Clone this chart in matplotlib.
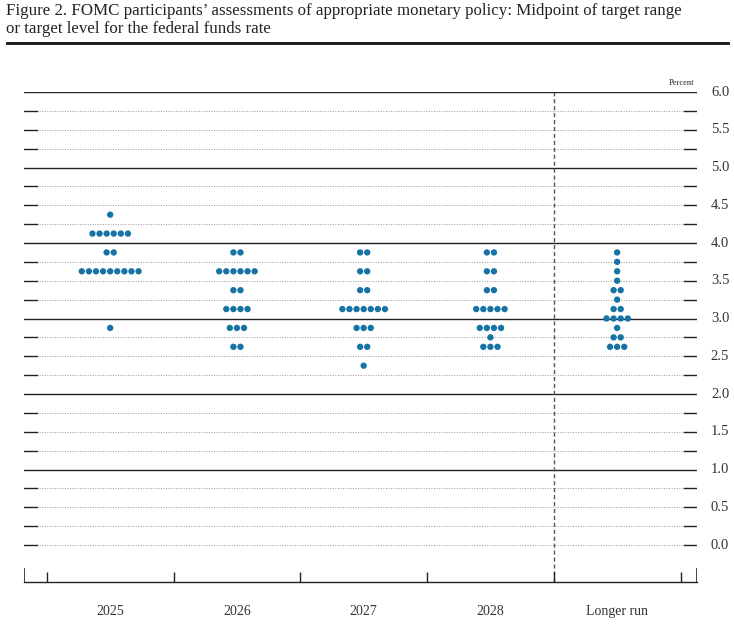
import matplotlib
matplotlib.use("Agg")
import matplotlib.pyplot as plt
from matplotlib.lines import Line2D

categories = ["2025", "2026", "2027", "2028", "Longer run"]
# (rate level, number of participants) per category
dots_2025 = [(4.375, 1), (4.125, 6), (3.875, 2), (3.625, 9), (2.875, 1)]
dots_2026 = [(3.875, 2), (3.625, 6), (3.375, 2), (3.125, 4), (2.875, 3), (2.625, 2)]
dots_2027 = [(3.875, 2), (3.625, 2), (3.375, 2), (3.125, 7), (2.875, 3), (2.625, 2), (2.375, 1)]
dots_2028 = [(3.875, 2), (3.625, 2), (3.375, 2), (3.125, 5), (2.875, 4), (2.75, 1), (2.625, 3)]
dots_longer = [(3.875, 1), (3.75, 1), (3.625, 1), (3.5, 1), (3.375, 2), (3.25, 1),
               (3.125, 2), (3.0, 4), (2.875, 1), (2.75, 2), (2.625, 3)]
all_dots = [dots_2025, dots_2026, dots_2027, dots_2028, dots_longer]
ytick_labels = ["6.0", "5.5", "5.0", "4.5", "4.0", "3.5", "3.0", "2.5", "2.0", "1.5", "1.0", "0.5", "0.0"]

SERIF = ["Liberation Serif", "DejaVu Serif"]
DOT = "#1673a5"

W, H = 734, 628
fig = plt.figure(figsize=(W / 100, H / 100), dpi=100)

ax = fig.add_axes([24 / W, 1 - 582 / H, (697 - 24) / W, (582 - 92) / H])
xmin, xmax = -0.68, 4.63
ax.set_xlim(xmin, xmax)
ax.set_ylim(-0.49, 6.0)

# horizontal grid lines every 0.25
levels = [i * 0.25 for i in range(0, 25)]
seg = 13 / (697 - 24)
for lv in levels:
    if lv > 0 and abs(lv - round(lv)) < 1e-9:
        ax.axhline(lv, color="#222222", lw=1.0, zorder=1)
    else:
        ax.axhline(lv, color="#999999", lw=0.7, ls=(0, (1, 1.6)), zorder=1)
        ax.axhline(lv, xmin=0, xmax=seg, color="#222222", lw=1.0, zorder=2)
        ax.axhline(lv, xmin=1 - seg, xmax=1, color="#222222", lw=1.0, zorder=2)

# divider between projections and longer run
ax.axvline(3.5, color="#555555", lw=1.0, ls=(0, (3, 2)), zorder=1)

# dots
spacing = 0.056
for i, grp in enumerate(all_dots):
    for level, n in grp:
        xs = [i + (k - (n - 1) / 2) * spacing for k in range(n)]
        ax.scatter(xs, [level] * n, s=21, color=DOT, edgecolors="none", zorder=3)

# axes frame
for s in ["top", "left", "right"]:
    ax.spines[s].set_visible(False)
ax.spines["bottom"].set_color("#222222")
ax.spines["bottom"].set_linewidth(1.0)
ax.axvline(xmin, ymin=0, ymax=13 / 490, color="#222222", lw=1.2)
ax.axvline(xmax, ymin=0, ymax=13 / 490, color="#222222", lw=1.2)

bounds = [i + 0.5 for i in range(-1, len(categories))]
ax.set_xticks(bounds)
ax.set_xticklabels([])
ax.tick_params(axis="x", direction="in", length=7.5, width=1.0, color="#222222")
ax.set_yticks([])

for i, c in enumerate(categories):
    ax.text(i, -0.49 - 23 / 75.5, c, ha="center", va="top",
            fontsize=10, family=SERIF, color="#333333")

# right side y labels
for j, lab in enumerate(ytick_labels):
    val = 6.0 - 0.5 * j
    ax.text(xmax + 23 / 126.7, val, lab, ha="center", va="center",
            fontsize=10.5, family=SERIF, color="#333333", clip_on=False)

ax.text(xmax - 0.02, 6.0 + 5 / 75.5, "Percent", ha="right", va="bottom",
        fontsize=6, family=SERIF, color="#222222")

# title
fig.text(6 / W, 1 - 3 / H,
         "Figure 2. FOMC participants\u2019 assessments of appropriate monetary policy: Midpoint of target range\n"
         "or target level for the federal funds rate",
         ha="left", va="top", fontsize=12.2, family=SERIF, color="#222222", linespacing=1.2)
fig.add_artist(Line2D([7 / W, 728 / W], [1 - 43 / H, 1 - 43 / H], color="#111111", lw=2.0))

fig.savefig("out.png", dpi=100)
